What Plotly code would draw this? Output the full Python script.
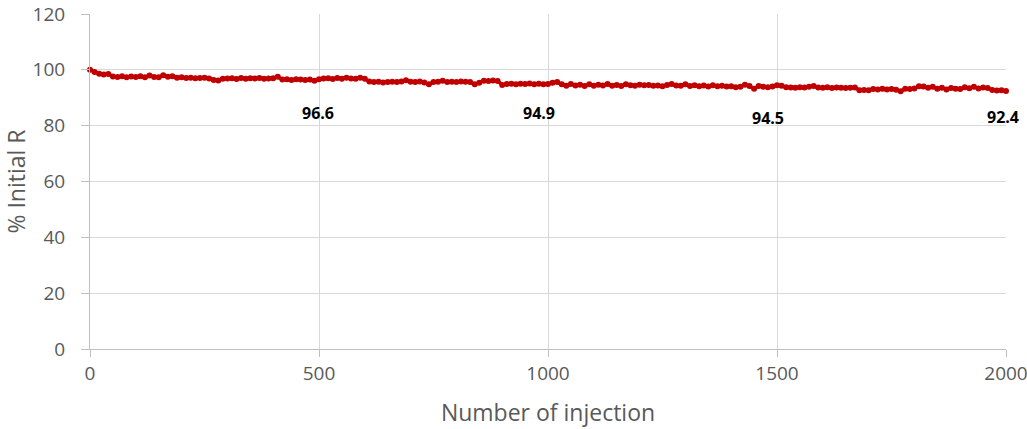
import plotly.graph_objects as go

# Injection count, sampled every 10 injections
injections = list(range(0, 2001, 10))

# Percentage of initial response at each sampled injection
pct_initial_r = [
    100.0, 99.2, 98.6, 98.3, 98.5, 97.6, 97.4, 97.7, 97.3, 97.6,
    97.4, 97.7, 97.3, 98.0, 97.4, 97.3, 98.1, 97.5, 97.7, 97.2,
    97.3, 97.1, 97.2, 97.0, 97.1, 97.2, 96.9, 96.4, 96.2, 96.8,
    96.9, 97.0, 96.7, 97.1, 96.8, 97.0, 96.9, 97.1, 96.8, 96.9,
    97.0, 97.5, 96.5, 96.6, 96.4, 96.6, 96.5, 96.4, 96.5, 96.1,
    96.6, 96.9, 97.0, 96.7, 97.1, 96.8, 97.2, 96.9, 96.8, 97.2,
    96.8, 95.8, 95.6, 95.7, 95.5, 95.6, 95.7, 95.6, 95.8, 96.3,
    95.7, 95.6, 95.8, 95.5, 94.8, 95.6, 95.7, 96.1, 95.6, 95.7,
    95.6, 95.8, 95.7, 95.6, 94.8, 95.4, 96.1, 96.0, 96.2, 96.0,
    94.6, 94.9, 95.0, 94.8, 95.0, 94.9, 95.1, 94.8, 95.0, 94.8,
    94.9, 95.4, 95.6, 94.8, 94.3, 94.9, 94.4, 94.7, 94.2, 94.8,
    94.3, 94.7, 94.4, 94.9, 94.3, 94.6, 94.2, 94.8, 94.5, 94.3,
    94.7, 94.5, 94.6, 94.3, 94.4, 94.1, 94.6, 94.9, 94.4, 94.3,
    94.8, 94.2, 94.5, 94.1, 94.4, 94.0, 94.5, 94.1, 94.3, 94.0,
    94.1, 93.8, 93.9, 94.7, 94.2, 93.2, 94.2, 93.9, 93.8, 94.0,
    94.5, 94.3, 93.8, 93.7, 93.6, 93.8, 93.7, 93.9, 94.2, 93.7,
    93.6, 93.8, 93.5, 93.7, 93.6, 93.5, 93.6, 93.7, 92.7, 92.8,
    92.7, 93.1, 93.0, 93.2, 93.0, 93.1, 92.9, 92.3, 93.2, 93.1,
    93.3, 94.1, 94.0, 93.6, 93.9, 93.2, 93.6, 93.0, 93.5, 93.2,
    93.1, 93.8, 93.4, 93.9, 93.3, 93.7, 93.5, 92.8, 92.6, 92.7,
    92.4,
]

# Injections whose value is printed on the chart
labelled_injections = [500, 1000, 1500, 2000]

x_ticks = [0, 500, 1000, 1500, 2000]
y_ticks = [0, 20, 40, 60, 80, 100, 120]

RED = "#c00000"
GRID = "#d9d9d9"
AXIS = "#bfbfbf"
TEXT = "#595959"
FONT = "Open Sans"

fig = go.Figure()
fig.add_trace(go.Scatter(
    x=injections,
    y=pct_initial_r,
    mode="lines+markers",
    line=dict(color=RED, width=3.5),
    marker=dict(color=RED, size=6),
    showlegend=False,
    cliponaxis=False,
    hoverinfo="x+y",
))

# Pixel offsets placing each value label under its point
label_shift = {500: (-1, -34), 1000: (-9, -29), 1500: (-9, -33), 2000: (-3, -26)}
for inj in labelled_injections:
    val = pct_initial_r[injections.index(inj)]
    dx, dy = label_shift[inj]
    fig.add_annotation(
        x=inj, y=val, text=f"<b>{val:.1f}</b>",
        showarrow=False, xshift=dx, yshift=dy,
        font=dict(family=FONT, size=16, color="#000000"),
    )

fig.update_layout(
    width=1027, height=429,
    margin=dict(l=90, r=21, t=14, b=80),
    paper_bgcolor="white", plot_bgcolor="white",
    font=dict(family=FONT, color=TEXT),
)
fig.update_xaxes(
    range=[0, 2000], tickvals=x_ticks, ticktext=[str(v) for v in x_ticks],
    automargin=False, ticklabeloverflow="allow",
    showgrid=True, gridcolor=GRID, gridwidth=1,
    showline=True, linecolor=AXIS, linewidth=1,
    ticks="outside", ticklen=7, tickcolor=AXIS,
    tickfont=dict(family=FONT, size=19, color=TEXT),
    zeroline=False,
    title=dict(text="Number of injection", font=dict(family=FONT, size=23, color=TEXT), standoff=20),
)
fig.update_yaxes(
    range=[0, 120], tickvals=y_ticks, ticktext=[str(v) for v in y_ticks],
    automargin=False, ticklabeloverflow="allow",
    showgrid=True, gridcolor=GRID, gridwidth=1,
    showline=True, linecolor=AXIS, linewidth=1,
    ticks="outside", ticklen=8, tickcolor=AXIS,
    tickfont=dict(family=FONT, size=19, color=TEXT),
    ticklabelstandoff=12,
    zeroline=False,
    title=dict(text="% Initial R", font=dict(family=FONT, size=23, color=TEXT), standoff=10),
)

fig.write_html("out.html")
